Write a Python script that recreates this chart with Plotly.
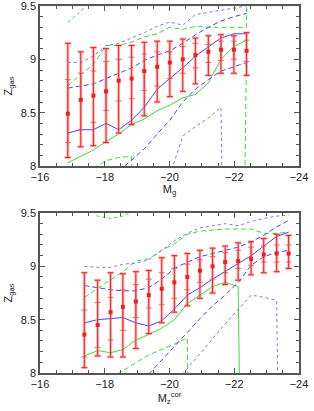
import plotly.graph_objects as go
from plotly.subplots import make_subplots

# ---------------- top panel (M_g) ----------------
top_x = [-16.86, -17.26, -17.65, -18.04, -18.43, -18.83, -19.22, -19.62,
         -20.01, -20.41, -20.80, -21.20, -21.59, -21.99, -22.38]
top_x_edge = [-22.78]

top_pts = [8.49, 8.62, 8.66, 8.70, 8.80, 8.82, 8.89, 8.93, 8.97, 9.00, 9.04, 9.07, 9.09, 9.09, 9.08]
top_hi = [9.15, 9.07, 9.11, 9.10, 9.13, 9.13, 9.16, 9.17, 9.17, 9.19, 9.20, 9.22, 9.23, 9.22, 9.25]
top_lo = [8.08, 8.18, 8.19, 8.22, 8.31, 8.39, 8.47, 8.60, 8.65, 8.70, 8.77, 8.85, 8.87, 8.87, 8.85]
top_in_hi = [8.81, 8.87, 8.89, 8.98, 9.00, 9.02, 9.05, 9.07, 9.07, 9.12, 9.15, 9.14, 9.17, 9.17, 9.18]
top_in_lo = [8.22, 8.34, 8.41, 8.52, 8.61, 8.63, 8.71, 8.75, 8.82, 8.87, 8.92, 8.97, 8.99, 9.00, 8.98]

top_blue_med = [8.31, 8.34, 8.34, 8.40, 8.34, 8.43, 8.55, 8.72, 8.82, 8.92, 9.03, 9.12, 9.20, 9.24, 9.24]
top_blue_dash_hi = [8.73, 8.75, 8.77, 8.82, 8.87, 8.92, 8.99, 9.04, 9.08, 9.15, 9.23, 9.30, 9.36, 9.40, 9.43]
top_blue_dash_lo = [None, None, None, None, 7.95, 8.06, 8.16, 8.30, 8.43, 8.60, 8.72, 8.81, 8.89, 8.93, 8.97]
top_blue_dot_hi = [8.97, 8.97, 9.03, 9.13, 9.15, 9.20, 9.25, 9.31, 9.35, 9.32, 9.42, 9.44, 9.46, 9.48, 9.50]
top_blue_dot_lo = [None, None, None, None, None, None, None, None, 7.91, 8.28, 8.37, 8.45, 8.55, 0.0, None]

top_green_med = [8.03, 8.09, 8.15, 8.23, 8.30, 8.39, 8.44, 8.52, 8.57, 8.64, 8.67, 8.78, 9.00, 9.12, 9.18]
top_green_dash_hi = [8.75, 8.86, 8.95, 9.13, 9.13, 9.16, 9.21, 9.24, 9.30, 9.28, 9.31, 9.30, 9.30, 9.30, 9.30, 30.0]
top_green_dash_lo = [None, None, 7.98, 8.05, 8.08, 8.09, 0.0, 0.0, 0.0, 0.0, 0.0, 0.0, 0.0, 0.0, 9.10]
top_green_dot_hi = [9.35, 9.45, 9.58, 9.70, None, None, None, None, None, None, None, None, None, None, None]

# ---------------- bottom panel (M_z^cor) ----------------
bot_x = [-17.37, -17.78, -18.18, -18.56, -18.96, -19.36, -19.76, -20.15, -20.55,
         -20.94, -21.33, -21.72, -22.12, -22.52, -22.91, -23.31, -23.68]

bot_pts = [8.36, 8.45, 8.57, 8.62, 8.67, 8.73, 8.79, 8.85, 8.90, 8.96, 9.00, 9.04, 9.05, 9.07, 9.11, 9.12, 9.12]
bot_hi = [8.94, 8.87, 8.94, 8.93, 8.95, 8.96, 9.08, 9.10, 9.12, 9.15, 9.17, 9.19, 9.22, 9.23, 9.26, 9.30, 9.29]
bot_lo = [8.05, 8.16, 8.15, 8.15, 8.23, 8.37, 8.47, 8.57, 8.63, 8.70, 8.75, 8.83, 8.87, 8.92, 8.94, 8.95, 8.98]
bot_in_hi = [8.59, 8.66, 8.71, 8.78, 8.83, 8.88, 8.94, 8.98, 9.02, 9.06, 9.09, 9.13, 9.15, 9.18, 9.19, 9.20, 9.20]
bot_in_lo = [8.15, 8.24, 8.31, 8.40, 8.52, 8.61, 8.64, 8.70, 8.78, 8.85, 8.88, 8.94, 8.98, 9.01, 9.04, 9.04, 9.04]

bot_blue_med = [8.47, 8.50, 8.51, 8.52, 8.47, 8.44, 8.49, 8.60, 8.73, 8.80, 8.88, 8.95, 9.02, 9.10, 9.19, 9.28, 9.32]
bot_blue_dash_hi = [8.82, 8.80, 8.78, 8.77, 8.77, 8.80, 8.88, 8.98, 9.04, 9.09, 9.12, 9.15, 9.18, 9.23, 9.29, 9.37, 9.43]
bot_blue_dash_lo = [None, None, None, None, None, 7.99, 8.12, 8.24, 8.38, 8.51, 8.63, 8.73, 8.85, 9.01, 9.09, 9.13, 9.15]
bot_blue_dot_hi = [9.00, 8.99, 8.99, 9.02, 9.03, 9.06, 9.15, 9.24, 9.31, 9.36, 9.38, 9.40, 9.38, 9.42, 9.45, 9.47, 9.48]
bot_blue_dot_lo = [None, None, None, None, None, None, None, 7.90, 8.04, 8.18, 8.32, 8.46, 8.60, 8.73, 8.71, 8.68, 0.0]

bot_green_med = [8.16, 8.21, 8.19, 8.22, 8.31, 8.36, 8.42, 8.50, 8.65, 8.73, 8.81, 8.85, 8.81, 0.0, None, None, None]
bot_green_dash_hi = [8.71, 8.79, 8.87, 8.95, 9.05, 9.07, 9.15, 9.21, 9.30, 9.33, 9.34, 9.35, 9.35, 9.35, 9.31, 9.31, 9.32]
bot_green_dash_lo = [None, None, 7.95, 8.02, 8.10, 8.17, 8.22, 8.27, 8.33, 0.0, None, None, None, None, None, None, None]
bot_green_dot_hi = [9.60, 9.47, 9.45, 9.47, 9.53, 9.62, None, None, None, None, None, None, None, None, None, None, None]

x_ticks = [-16, -18, -20, -22, -24]
y_ticks = [8, 8.5, 9, 9.5]

BLUE = 'rgb(70,70,255)'
BLUE_DOT = 'rgb(120,120,255)'
GREEN = 'rgb(60,220,60)'
RED = 'rgb(240,30,30)'
PINK = 'rgba(255,120,120,0.5)'
DASH = '5px,3px'

fig = make_subplots(rows=2, cols=1)


def line(x, y, color, dash, row):
    fig.add_trace(go.Scatter(x=x, y=y, mode='lines', connectgaps=False,
                             line=dict(color=color, width=1, dash=dash),
                             hoverinfo='skip'), row=row, col=1)


def panel(row, xs, pts, hi, lo, ihi, ilo, bmed, bdh, bdl, bth, btl,
          gmed, gdh, gdl, gth, gdh_x=None):
    line(xs, gth, GREEN, 'dot', row)
    line(gdh_x if gdh_x else xs, gdh, GREEN, DASH, row)
    line(xs, gdl, GREEN, DASH, row)
    line(xs, gmed, GREEN, 'solid', row)
    line(xs, bth, BLUE_DOT, 'dot', row)
    line(xs, btl, BLUE_DOT, 'dot', row)
    line(xs, bdh, BLUE, DASH, row)
    line(xs, bdl, BLUE, DASH, row)
    line(xs, bmed, BLUE, 'solid', row)
    up = [h - p for h, p in zip(hi, pts)]
    dn = [p - l for p, l in zip(pts, lo)]
    iup = [h - p for h, p in zip(ihi, pts)]
    idn = [p - l for p, l in zip(pts, ilo)]
    transparent = dict(size=1, color='rgba(0,0,0,0)')
    fig.add_trace(go.Scatter(x=xs, y=pts, mode='markers', marker=transparent,
                             error_y=dict(type='data', symmetric=False, array=up, arrayminus=dn,
                                          color=PINK, thickness=3, width=3),
                             hoverinfo='skip'), row=row, col=1)
    fig.add_trace(go.Scatter(x=xs, y=pts, mode='markers', marker=transparent,
                             error_y=dict(type='data', symmetric=False, array=up, arrayminus=dn,
                                          color=RED, thickness=1, width=3),
                             hoverinfo='skip'), row=row, col=1)
    fig.add_trace(go.Scatter(x=xs, y=pts, mode='markers',
                             marker=dict(symbol='square', size=4, color=RED),
                             error_y=dict(type='data', symmetric=False, array=iup, arrayminus=idn,
                                          color='rgba(240,60,60,0.75)', thickness=1, width=3)),
                  row=row, col=1)


panel(1, top_x, top_pts, top_hi, top_lo, top_in_hi, top_in_lo,
      top_blue_med, top_blue_dash_hi, top_blue_dash_lo, top_blue_dot_hi, top_blue_dot_lo,
      top_green_med, top_green_dash_hi, top_green_dash_lo, top_green_dot_hi,
      gdh_x=top_x + top_x_edge)
panel(2, bot_x, bot_pts, bot_hi, bot_lo, bot_in_hi, bot_in_lo,
      bot_blue_med, bot_blue_dash_hi, bot_blue_dash_lo, bot_blue_dot_hi, bot_blue_dot_lo,
      bot_green_med, bot_green_dash_hi, bot_green_dash_lo, bot_green_dot_hi)

FRAME = '#555555'
common = dict(showgrid=False, zeroline=False, showline=True, linecolor=FRAME, linewidth=1.5,
              mirror='allticks', ticks='inside', ticklen=5, tickwidth=1, tickcolor=FRAME,
              automargin=False, ticklabeloverflow='allow',
              tickfont=dict(size=11, color='#222'))

fig.update_xaxes(range=[-16, -24], tickmode='array', tickvals=x_ticks,
                 ticktext=['\u2212' + str(abs(v)) for v in x_ticks],
                 minor=dict(tickmode='linear', tick0=-16, dtick=0.5, ticks='inside', ticklen=3,
                            tickcolor=FRAME, tickwidth=1, showgrid=False),
                 **common)
fig.update_yaxes(range=[8, 9.5], tickmode='array', tickvals=y_ticks,
                 ticktext=[('%g' % v) for v in y_ticks],
                 minor=dict(tickmode='linear', tick0=8, dtick=0.1, ticks='inside', ticklen=3,
                            tickcolor=FRAME, tickwidth=1, showgrid=False),
                 title=dict(text='Z<sub>gas</sub>', font=dict(size=11, color='#222'), standoff=6),
                 **common)

fig.update_xaxes(title=dict(text='M<sub>g</sub>', font=dict(size=11, color='#222'), standoff=0),
                 row=1, col=1)
fig.update_xaxes(title=dict(text='M<sub>z</sub><sup>cor</sup>', font=dict(size=11, color='#222'),
                            standoff=0), row=2, col=1)
fig.update_yaxes(domain=[0.5640, 1.0], row=1, col=1)
fig.update_yaxes(domain=[0.0, 0.4360], row=2, col=1)

fig.update_layout(width=314, height=411, showlegend=False,
                  margin=dict(l=40, r=15, t=6, b=38),
                  paper_bgcolor='white', plot_bgcolor='white',
                  font=dict(family='Liberation Sans, Arial, sans-serif', size=11, color='#222'))

fig.write_html('out.html', config={'displayModeBar': False},
               post_script="document.body.style.margin='0';document.body.style.overflow='hidden';")
